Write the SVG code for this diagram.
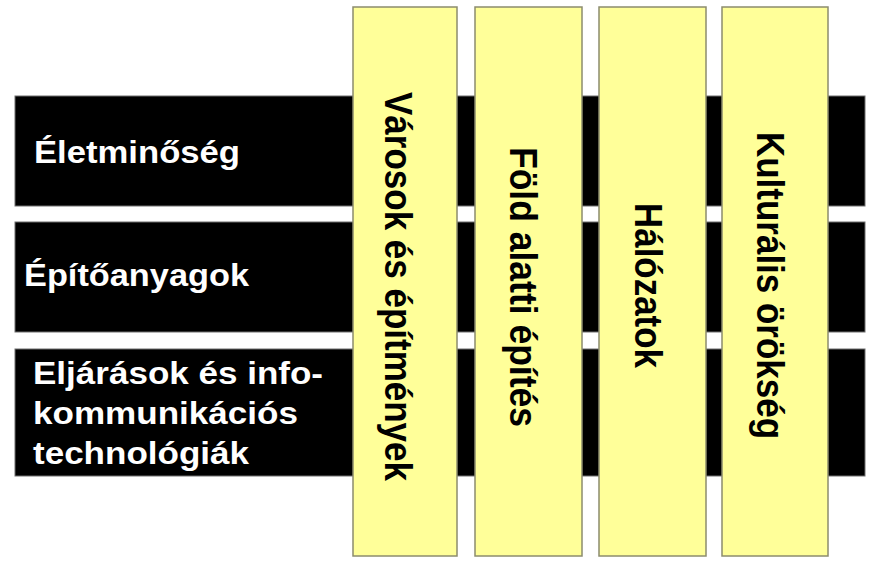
<svg xmlns="http://www.w3.org/2000/svg" width="873" height="561" viewBox="0 0 873 561">
<style>
.row{fill:#000000;stroke:#6e6e6e;stroke-width:1}
.col{fill:#FFFF99;stroke:#8C8C6E;stroke-width:1.5}
.rl{font-family:"Liberation Sans",Arial,sans-serif;font-weight:bold;font-size:32px;fill:#FFFFFF}
.cl{font-family:"Liberation Sans",Arial,sans-serif;font-weight:bold;font-size:38px;fill:#000000}
</style>
<rect x="0" y="0" width="873" height="561" fill="#FFFFFF"/>
<g id="row-eletminoseg">
<rect class="row" x="15" y="96" width="850" height="110"/>
<text class="rl" x="34" y="163" textLength="206" lengthAdjust="spacingAndGlyphs">Életminőség</text>
</g>
<g id="row-epitoanyagok">
<rect class="row" x="15" y="222" width="850" height="110"/>
<text class="rl" x="24" y="286" textLength="225" lengthAdjust="spacingAndGlyphs">Építőanyagok</text>
</g>
<g id="row-eljarasok">
<rect class="row" x="15" y="349" width="850" height="127"/>
<text class="rl" x="33" y="384" textLength="290" lengthAdjust="spacingAndGlyphs">Eljárások és info-</text>
<text class="rl" x="33" y="424" textLength="265" lengthAdjust="spacingAndGlyphs">kommunikációs</text>
<text class="rl" x="33" y="464" textLength="216" lengthAdjust="spacingAndGlyphs">technológiák</text>
</g>
<g id="col-varosok">
<rect class="col" x="353" y="7" width="104" height="549"/>
<text class="cl" transform="translate(385,92) rotate(90)" x="0" y="0" textLength="389" lengthAdjust="spacingAndGlyphs">Városok és építmények</text>
</g>
<g id="col-fold-alatti">
<rect class="col" x="475" y="7" width="107" height="549"/>
<text class="cl" transform="translate(510,147) rotate(90)" x="0" y="0" textLength="280" lengthAdjust="spacingAndGlyphs">Föld alatti építés</text>
</g>
<g id="col-halozatok">
<rect class="col" x="599" y="7" width="107" height="549"/>
<text class="cl" transform="translate(635,203) rotate(90)" x="0" y="0" textLength="165" lengthAdjust="spacingAndGlyphs">Hálózatok</text>
</g>
<g id="col-kulturalis">
<rect class="col" x="722" y="7" width="106" height="549"/>
<text class="cl" transform="translate(757,132) rotate(90)" x="0" y="0" textLength="307" lengthAdjust="spacingAndGlyphs">Kulturális örökség</text>
</g>
<g id="connectors"></g>
</svg>
